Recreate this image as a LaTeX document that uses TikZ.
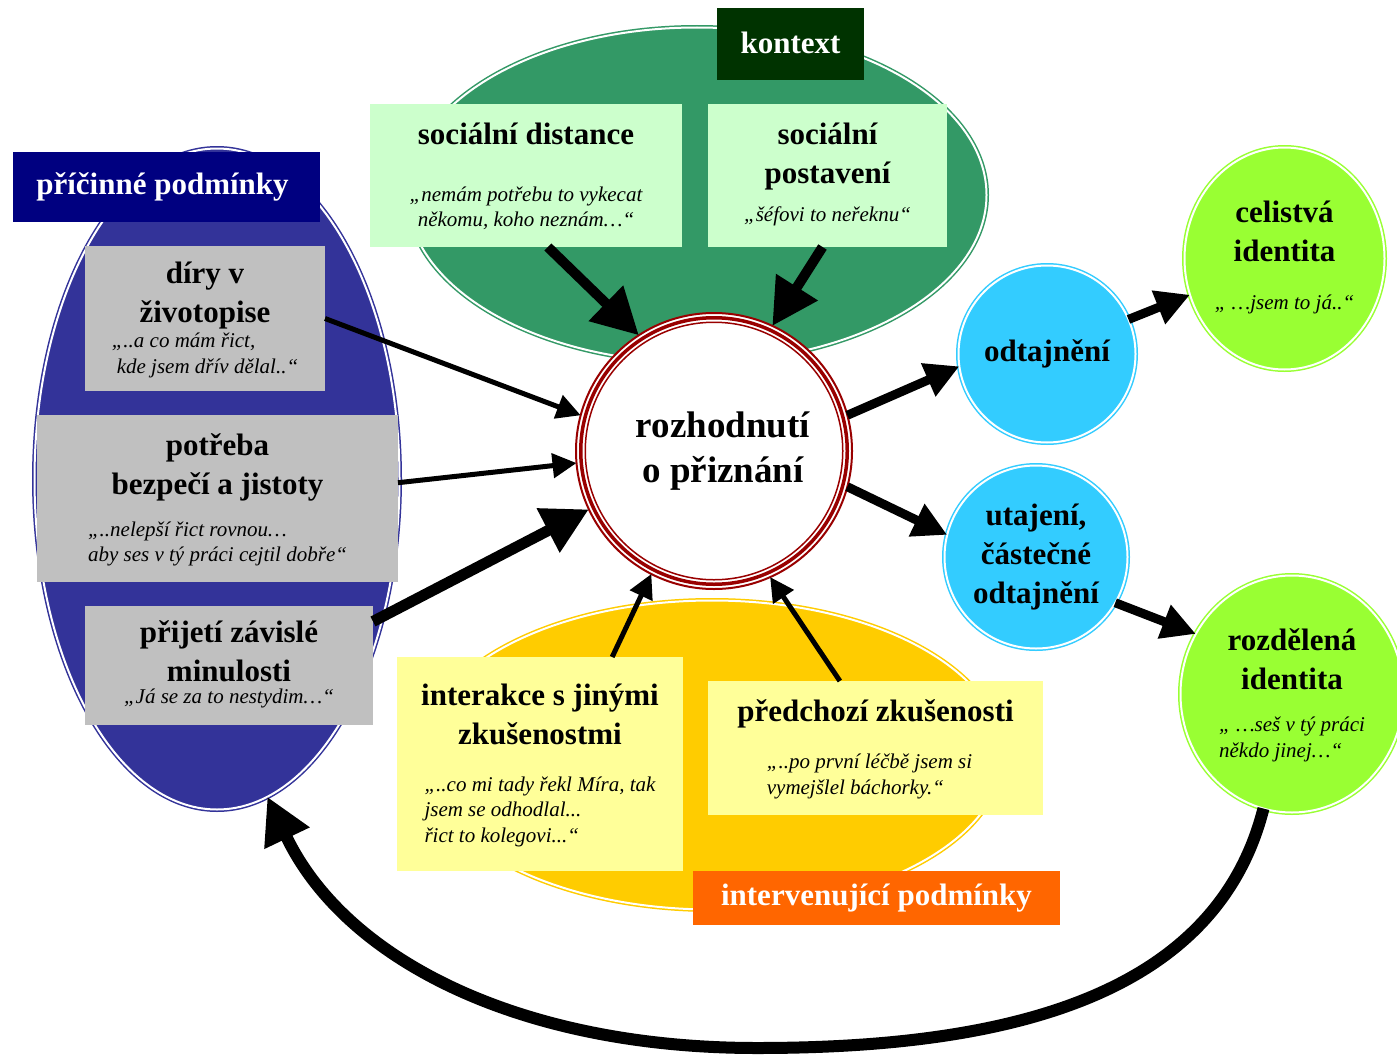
\documentclass[tikz,border=0pt]{standalone}
\usepackage{fontspec}
\setmainfont{Liberation Serif}
\usepackage{tikz}
\usetikzlibrary{positioning, arrows.meta, shapes.geometric}
\usepackage{color}

\definecolor{kontextbg}{HTML}{339966}
\definecolor{kontextlbl}{HTML}{003300}
\definecolor{kontextbox}{HTML}{CCFFCC}
\definecolor{pricbg}{HTML}{333399}
\definecolor{priclbl}{HTML}{000080}
\definecolor{pricbox}{HTML}{C0C0C0}
\definecolor{intbg}{HTML}{FFCC00}
\definecolor{intlbl}{HTML}{FF6600}
\definecolor{intbox}{HTML}{FFFF99}
\definecolor{rozring}{HTML}{990000}
\definecolor{odtbg}{HTML}{33CCFF}
\definecolor{idbg}{HTML}{99FF33}

\newcommand{\hdr}{\fontsize{31}{39}\selectfont\bfseries}
\newcommand{\cit}{\fontsize{21}{25.5}\selectfont\mdseries\itshape}
\newcommand{\rozfont}{\fontsize{37}{45}\selectfont\bfseries}
\newcommand{\blok}[1]{\begin{tabular}{@{}c@{}}#1\end{tabular}}
\newcommand{\citc}[1]{\cit\begin{tabular}[t]{@{}c@{}}#1\end{tabular}}
\newcommand{\citl}[1]{\cit\begin{tabular}[t]{@{}l@{}}#1\end{tabular}}

\tikzset{
    region/.style={ellipse, draw=#1, fill=#1, double=white, double distance=2, line width=1.5, inner sep=0, outer sep=0},
    bubble/.style={circle, draw=#1, fill=#1, double=white, double distance=2, line width=1.5, inner sep=0, outer sep=0, font=\hdr},
    box/.style={rectangle, fill=#1, inner sep=0, outer sep=0, font=\hdr},
    lbl/.style={rectangle, fill=#1, text=white, inner sep=0, outer sep=0, font=\hdr},
    pijS/.style={line width=5, -{Triangle[length=24pt, width=24pt]}},
    pijM/.style={line width=9, -{Triangle[length=34pt, width=34pt]}},
    pijL/.style={line width=11, -{Triangle[length=46pt, width=47pt]}}
}

\begin{document}
\begin{tikzpicture}[x=1pt, y=-1pt]
    
    \path[use as bounding box, fill=white] (0,0) rectangle (1397,1057);
    \node[region=kontextbg, minimum width=579, minimum height=335] (kontext) at (697,195) {};
    \node[region=pricbg, minimum width=365, minimum height=661] (pric) at (217,479) {};
    \node[region=intbg, minimum width=581, minimum height=309] (interv) at (712,755) {};
    \node[circle, draw=rozring, line width=2, fill=white, minimum size=276, inner sep=0, outer sep=0, font=\rozfont] (roz) at (714,451) {\hspace*{18pt}\blok{rozhodnutí\\o přiznání}};
    \draw[rozring, line width=3.5] (roz.center) circle[radius=133.25];
    \draw[rozring, line width=1.5] (roz.center) circle[radius=128.75];

    \node[box=kontextbox, minimum width=312, minimum height=143] (dist) at (526,175.5)
        {\blok{sociální distance\\[18pt]\citc{„nemám potřebu to vykecat\\někomu, koho neznám…“}}};
    \node[box=kontextbox, right=26pt of dist, minimum width=239, minimum height=143] (post)
        {\blok{sociální\\postavení\\[-1pt]\citc{„šéfovi to neřeknu“}}};
    \node[lbl=kontextlbl, minimum width=147, minimum height=72] (kontextlbl) at (790.5,44) {\raisebox{3pt}{kontext}};

    \node[box=pricbox, minimum width=240, minimum height=145] (diry) at (205,318.5)
        {\blok{díry v\\životopise\\[-14pt]\citl{„..a co mám řict,\\\hspace{5pt}kde jsem dřív dělal..“}}};
    \node[box=pricbox, minimum width=361, minimum height=167] (pot) at (217.5,498.5)
        {\blok{potřeba\\bezpečí a jistoty\\[3pt]\citl{„..nelepší řict rovnou…\\aby ses v tý práci cejtil dobře“}}};
    \node[box=pricbox, minimum width=288, minimum height=119] (prij) at (229,665.5)
        {\blok{přijetí závislé\\minulosti\\[-17pt]\citc{„Já se za to nestydim…“}}};
    \node[lbl=priclbl, minimum width=307, minimum height=70] (priclbl) at (166.5,187) {příčinné podmínky\hspace*{8pt}};

    \node[box=intbox, minimum width=286, minimum height=214] (inter) at (540,764)
        {\blok{interakce s jinými\\zkušenostmi\\[8pt]\citl{„..co mi tady řekl Míra, tak\\jsem se odhodlal...\\řict to kolegovi...“}}};
    \node[box=intbox, minimum width=335, minimum height=134] (pred) at (875.5,748)
        {\blok{předchozí zkušenosti\\[8pt]\hspace*{-12pt}\citl{„..po první léčbě jsem si\\vymejšlel báchorky.“}}};
    \node[lbl=intlbl, minimum width=367, minimum height=54] (intlbl) at (876.5,898) {intervenující podmínky};

    \node[bubble=odtbg, minimum size=177] (odt) at (1047,354) {\blok{odtajnění}};
    \node[bubble=odtbg, minimum size=183] (ut) at (1036,557) {\blok{utajení,\\částečné\\odtajnění}};
    \node[bubble=idbg, ellipse, minimum width=200, minimum height=222] (cel) at (1284.5,258.5)
        {\blok{celistvá\\identita\\[9pt]\citc{„ …jsem to já..“}}};
    \node[bubble=idbg, ellipse, minimum width=223, minimum height=237] (rozd) at (1292,694)
        {\blok{rozdělená\\identita\\[3pt]\citl{„ …seš v tý práci\\někdo jinej…“}}};

    \draw[pijL, line width=10] (dist.-73) -- (roz.123);
    \draw[pijL, line width=10] (post.-94) -- (roz.65);
    \draw[pijS] (diry.east) -- (roz.165);
    \draw[pijS] (pot.5) -- (roz.185);
    \draw[pijL] (prij.17) -- (roz.205);
    \draw[pijS] (inter.56) -- (roz.243);
    \draw[pijS] (pred.118) -- (roz.294);
    \draw[pijM] (roz.15) -- (odt.188);
    \draw[pijM] (roz.-15) -- (ut.166);
    \draw[pijM] (odt.23) -- (cel.201);
    \draw[pijM] (ut.-30) -- (rozd.148);
    \coordinate (dno) at (757,1048);
    \draw[pijL, line width=12] (rozd.256) .. controls (1215,1000) and (1000,1048) .. (dno)
        .. controls (520,1048) and (345,960) .. (pric.-81);

\end{tikzpicture}
\end{document}
